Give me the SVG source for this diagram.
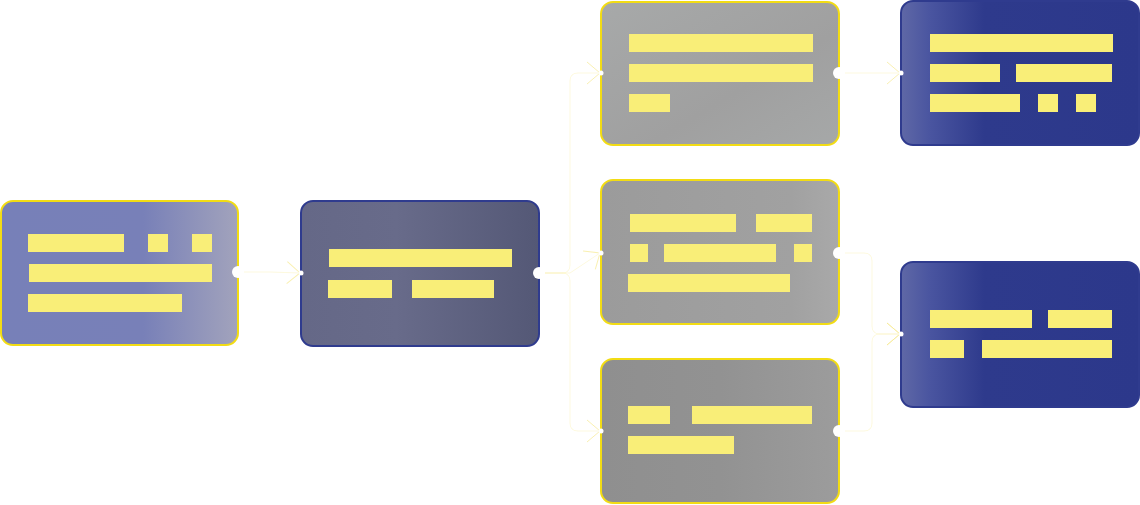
<svg xmlns="http://www.w3.org/2000/svg" width="1140" height="505" viewBox="0 0 1140 505">
<defs>
<linearGradient id="g1" x1="0" y1="0" x2="1" y2="0">
<stop offset="0" stop-color="#7780b8"/><stop offset="0.6" stop-color="#7880b8"/><stop offset="1" stop-color="#a2a3bc"/>
</linearGradient>
<linearGradient id="g2" x1="0" y1="0" x2="1" y2="0">
<stop offset="0" stop-color="#656887"/><stop offset="0.4" stop-color="#686b8a"/><stop offset="1" stop-color="#545876"/>
</linearGradient>
<linearGradient id="g3" x1="0" y1="0" x2="1" y2="1">
<stop offset="0" stop-color="#a7a9a9"/><stop offset="0.6" stop-color="#a0a0a0"/><stop offset="1" stop-color="#a6a8a8"/>
</linearGradient>
<linearGradient id="g4" x1="0" y1="0" x2="1" y2="0">
<stop offset="0" stop-color="#9b9b9b"/><stop offset="0.8" stop-color="#a1a1a1"/><stop offset="1" stop-color="#a9a9a9"/>
</linearGradient>
<linearGradient id="g5" x1="0" y1="0" x2="1" y2="0">
<stop offset="0" stop-color="#8f8f8f"/><stop offset="0.5" stop-color="#929292"/><stop offset="1" stop-color="#9c9c9c"/>
</linearGradient>
<linearGradient id="g6" x1="0" y1="0" x2="1" y2="0">
<stop offset="0" stop-color="#5f68a6"/><stop offset="0.12" stop-color="#4a55a0"/><stop offset="0.35" stop-color="#2e3a8c"/><stop offset="1" stop-color="#2c388b"/>
</linearGradient>
<marker id="arr" viewBox="0 0 16 24" refX="15" refY="12" markerWidth="16" markerHeight="24" markerUnits="userSpaceOnUse" orient="auto">
<path d="M2,1 L15,12 L2,23" fill="none" stroke="#f6ea90" stroke-width="1" stroke-opacity="0.7"/>
</marker>
</defs>
<style>
.bar{fill:#f9ee78}
.ny{stroke:#f2dc14;stroke-width:2}
.nb{stroke:#2f3b8e;stroke-width:2}
.port{fill:#ffffff}
.conn{fill:none;stroke:#f8eea0;stroke-width:1;stroke-opacity:0.35}
</style>
<rect width="1140" height="505" fill="#ffffff"/>
<g id="connectors">
<path class="conn" d="M244,272 L270,272 L300,273" marker-end="url(#arr)"/>
<path class="conn" d="M545,273 L562,273 Q570,273 570,265 L570,81 Q570,73 578,73 L600,73" marker-end="url(#arr)"/>
<path class="conn" d="M545,273 L570,273 L600,253" marker-end="url(#arr)"/>
<path class="conn" d="M545,273 L562,273 Q570,273 570,281 L570,423 Q570,431 578,431 L600,431" marker-end="url(#arr)"/>
<path class="conn" d="M845,73 L900,73" marker-end="url(#arr)"/>
<path class="conn" d="M845,253 L864,253 Q872,253 872,261 L872,326 Q872,334 880,334 L900,334" marker-end="url(#arr)"/>
<path class="conn" d="M845,431 L864,431 Q872,431 872,423 L872,342 Q872,334 880,334 L900,334" marker-end="url(#arr)"/>
</g>
<g id="node1">
<rect class="ny" x="1" y="201" width="237" height="144" rx="12" fill="url(#g1)"/>
<rect class="bar" x="28" y="234" width="96" height="18"/>
<rect class="bar" x="148" y="234" width="20" height="18"/>
<rect class="bar" x="192" y="234" width="20" height="18"/>
<rect class="bar" x="29" y="264" width="183" height="18"/>
<rect class="bar" x="28" y="294" width="154" height="18"/>
<circle class="port" cx="238" cy="272" r="6"/>
</g>
<g id="node2">
<rect class="nb" x="301" y="201" width="238" height="145" rx="12" fill="url(#g2)"/>
<rect class="bar" x="329" y="249" width="183" height="18"/>
<rect class="bar" x="328" y="280" width="64" height="18"/>
<rect class="bar" x="412" y="280" width="82" height="18"/>
<circle class="port" cx="301" cy="273" r="2.5"/>
<circle class="port" cx="539" cy="273" r="6"/>
</g>
<g id="node3">
<rect class="ny" x="601" y="2" width="238" height="143" rx="12" fill="url(#g3)"/>
<rect class="bar" x="629" y="34" width="184" height="18"/>
<rect class="bar" x="629" y="64" width="184" height="18"/>
<rect class="bar" x="629" y="94" width="41" height="18"/>
<circle class="port" cx="601" cy="73" r="2.5"/>
<circle class="port" cx="839" cy="73" r="6"/>
</g>
<g id="node4">
<rect class="ny" x="601" y="180" width="238" height="144" rx="12" fill="url(#g4)"/>
<rect class="bar" x="630" y="214" width="106" height="18"/>
<rect class="bar" x="756" y="214" width="56" height="18"/>
<rect class="bar" x="630" y="244" width="18" height="18"/>
<rect class="bar" x="664" y="244" width="112" height="18"/>
<rect class="bar" x="794" y="244" width="18" height="18"/>
<rect class="bar" x="628" y="274" width="162" height="18"/>
<circle class="port" cx="601" cy="253" r="2.5"/>
<circle class="port" cx="839" cy="253" r="6"/>
</g>
<g id="node5">
<rect class="ny" x="601" y="359" width="238" height="144" rx="12" fill="url(#g5)"/>
<rect class="bar" x="628" y="406" width="42" height="18"/>
<rect class="bar" x="692" y="406" width="120" height="18"/>
<rect class="bar" x="628" y="436" width="106" height="18"/>
<circle class="port" cx="601" cy="431" r="2.5"/>
<circle class="port" cx="839" cy="431" r="6"/>
</g>
<g id="node6">
<rect class="nb" x="901" y="1" width="238" height="144" rx="12" fill="url(#g6)"/>
<rect class="bar" x="930" y="34" width="183" height="18"/>
<rect class="bar" x="930" y="64" width="70" height="18"/>
<rect class="bar" x="1016" y="64" width="96" height="18"/>
<rect class="bar" x="930" y="94" width="90" height="18"/>
<rect class="bar" x="1038" y="94" width="20" height="18"/>
<rect class="bar" x="1076" y="94" width="20" height="18"/>
<circle class="port" cx="901" cy="73" r="2.5"/>
</g>
<g id="node7">
<rect class="nb" x="901" y="262" width="238" height="145" rx="12" fill="url(#g6)"/>
<rect class="bar" x="930" y="310" width="102" height="18"/>
<rect class="bar" x="1048" y="310" width="64" height="18"/>
<rect class="bar" x="930" y="340" width="34" height="18"/>
<rect class="bar" x="982" y="340" width="130" height="18"/>
<circle class="port" cx="901" cy="334" r="2.5"/>
</g>
</svg>
